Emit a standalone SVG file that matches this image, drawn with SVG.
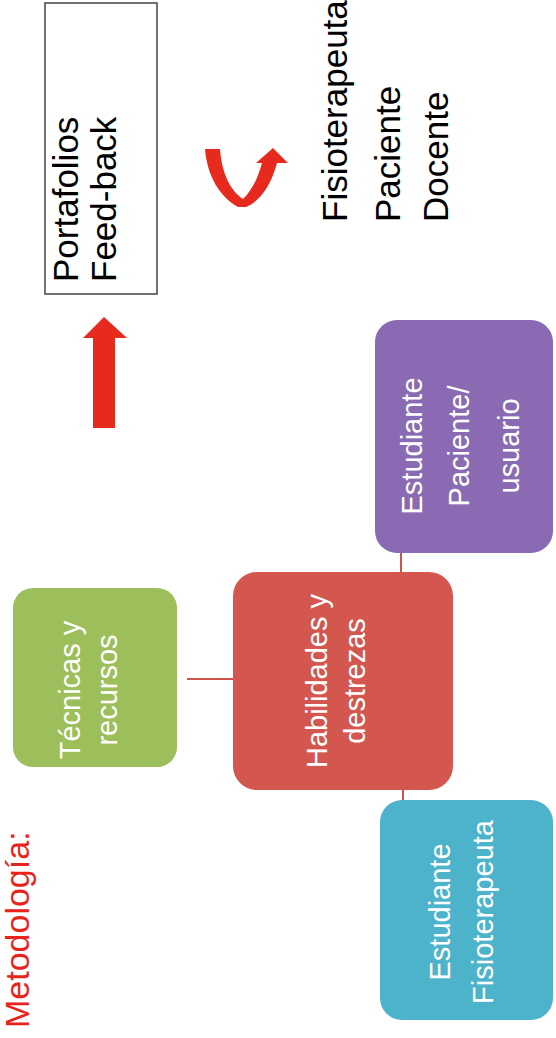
<svg xmlns="http://www.w3.org/2000/svg" width="556" height="1038" viewBox="0 0 556 1038">
<style>
text{font-family:"Liberation Sans",Arial,sans-serif}
.nt{fill:#ffffff;font-size:29px;text-anchor:middle}
.bt{fill:#000000;font-size:35px}
.arrow{fill:#e62a1e}
.conn{stroke:#d0534b;stroke-width:2;fill:none}
</style>
<rect width="556" height="1038" fill="#ffffff"/>
<g id="title">
<text transform="translate(29,1028) rotate(-90)" style="fill:#e8231c;font-size:34px">Metodología:</text>
</g>
<g id="connectors">
<line class="conn" x1="187" y1="679" x2="233" y2="679"/>
<line class="conn" x1="401" y1="553" x2="401" y2="572"/>
<line class="conn" x1="403" y1="790" x2="403" y2="800"/>
</g>
<g id="node-tecnicas">
<rect x="13" y="588" width="164" height="179" rx="20" fill="#9dbf5b"/>
<text class="nt" transform="translate(80,690) rotate(-90)">Técnicas y</text>
<text class="nt" transform="translate(117,690) rotate(-90)">recursos</text>
</g>
<g id="node-habilidades">
<rect x="233" y="572" width="220" height="218" rx="24" fill="#d3574f"/>
<text class="nt" transform="translate(327,681) rotate(-90)">Habilidades y</text>
<text class="nt" transform="translate(365,681) rotate(-90)">destrezas</text>
</g>
<g id="node-paciente">
<rect x="375" y="320" width="178" height="233" rx="22" fill="#8a6bb3"/>
<text class="nt" transform="translate(422,446) rotate(-90)">Estudiante</text>
<text class="nt" transform="translate(469,446) rotate(-90)">Paciente/</text>
<text class="nt" transform="translate(519,446) rotate(-90)">usuario</text>
</g>
<g id="node-fisio">
<rect x="380" y="800" width="173" height="220" rx="22" fill="#4db3cb"/>
<text class="nt" transform="translate(450,912) rotate(-90)">Estudiante</text>
<text class="nt" transform="translate(493,912) rotate(-90)">Fisioterapeuta</text>
</g>
<g id="node-portafolios">
<rect x="45" y="3" width="112" height="291" fill="#ffffff" stroke="#444444" stroke-width="1.5"/>
<text class="bt" transform="translate(78,282) rotate(-90)">Portafolios</text>
<text class="bt" transform="translate(116,282) rotate(-90)">Feed-back</text>
</g>
<g id="up-arrow">
<path class="arrow" d="M93,428 L93,338 L83,338 L104,317 L127,338 L115,338 L115,428 Z"/>
</g>
<g id="u-arrow">
<path class="arrow" d="M205,149 L220,149 C222,175 231,191 243,199 C252,190 258,178 262,163 L256,163 L273,148 L288,163 L277,163 C271,186 259,202 246,207 L238,207 C220,197 207,176 205,149 Z"/>
</g>
<g id="roles">
<text class="bt" transform="translate(347,222) rotate(-90)">Fisioterapeuta</text>
<text class="bt" transform="translate(400,222) rotate(-90)">Paciente</text>
<text class="bt" transform="translate(448,222) rotate(-90)">Docente</text>
</g>
</svg>
